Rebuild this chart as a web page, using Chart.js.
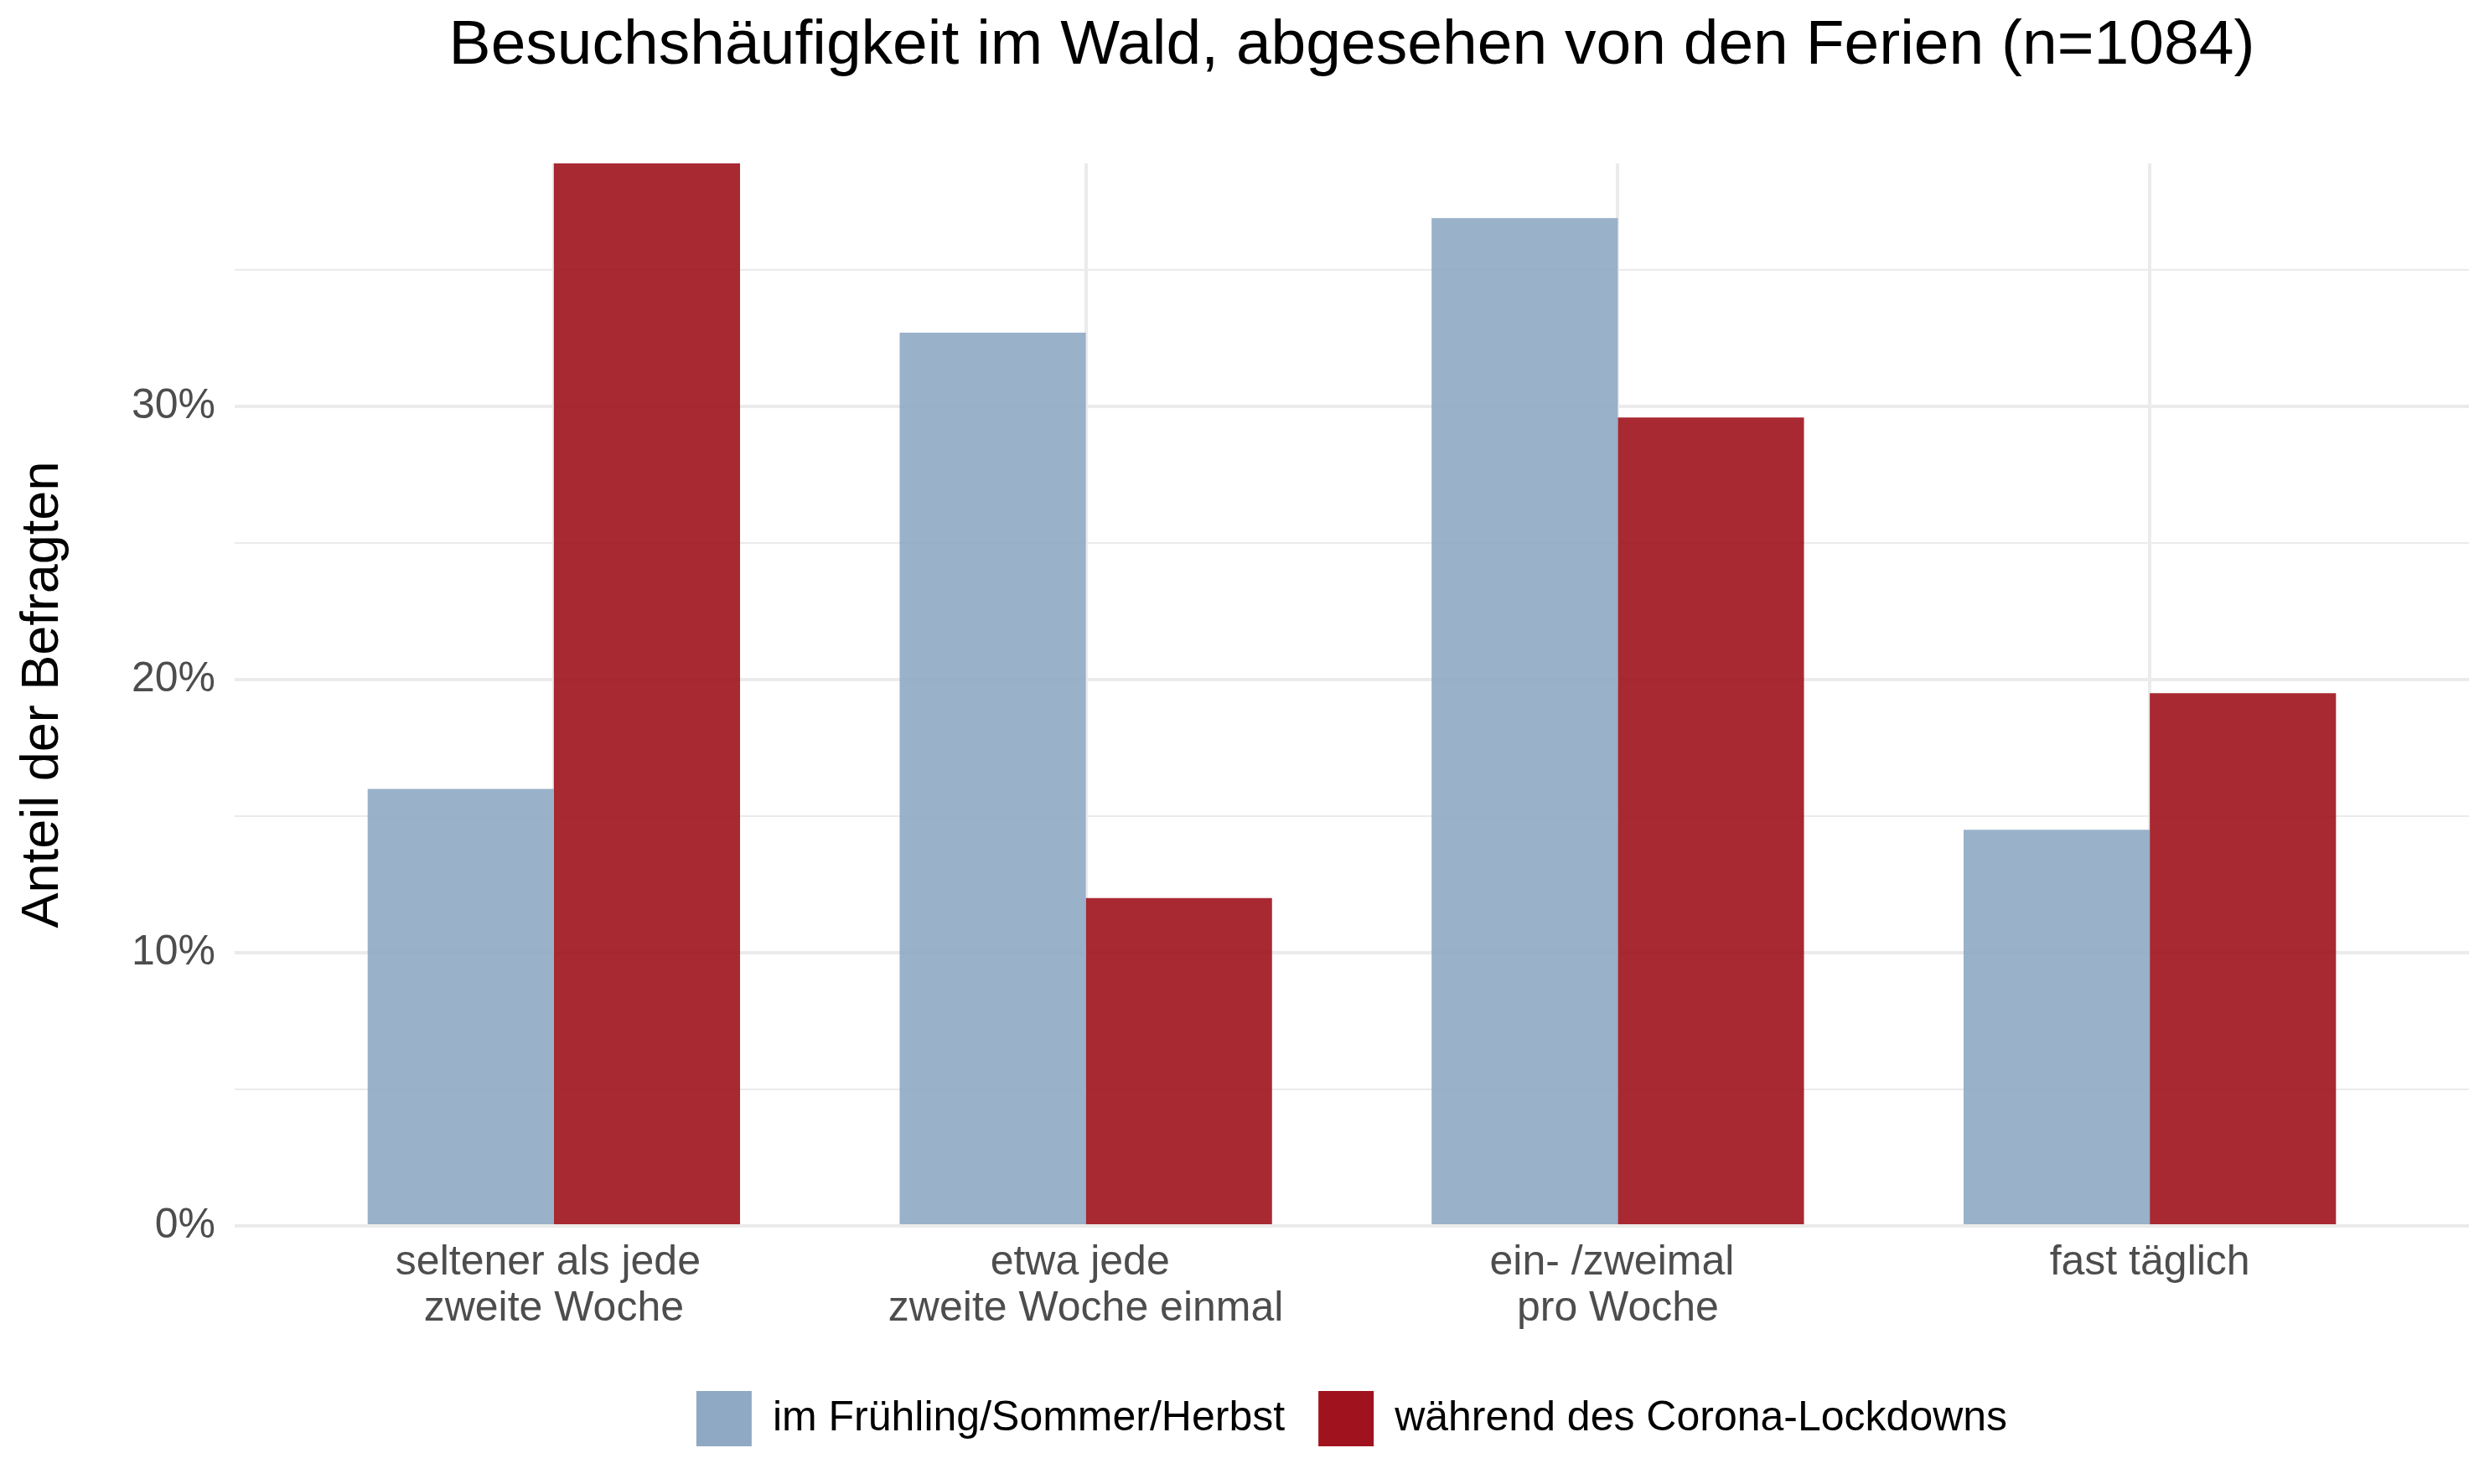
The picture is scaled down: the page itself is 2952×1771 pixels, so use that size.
<!DOCTYPE html>
<html>
<head>
<meta charset="utf-8">
<script src="https://cdn.jsdelivr.net/npm/chart.js@4/dist/chart.umd.min.js"></script>
<style>
  html, body { margin: 0; padding: 0; background: #ffffff; }
  #wrap { width: 2952px; height: 1771px; }
</style>
</head>
<body>
<div id="wrap"><canvas id="c" width="2952" height="1771"></canvas></div>
<script>
const titleText = "Besuchshäufigkeit im Wald, abgesehen von den Ferien (n=1084)";
const yTitle = "Anteil der Befragten";
const categories = [
  "seltener als jede \nzweite Woche",
  "etwa jede \nzweite Woche einmal",
  "ein- /zweimal \npro Woche",
  "fast täglich"
];
const seriesNames = ["im Frühling/Sommer/Herbst", "während des Corona-Lockdowns"];
const springSummerAutumn = [16.0, 32.7, 36.9, 14.5];
const coronaLockdown = [38.9, 12.0, 29.6, 19.5];
const yTickStep = 5;
const yLabelStep = 10;

const barColors = ["rgba(143,168,196,0.9)", "rgba(160,18,29,0.9)"];
const legendColors = ["rgb(143,168,196)", "rgb(160,18,29)"];
const FONT = "'Liberation Sans', Arial, Helvetica, sans-serif";

const toPoints = arr => arr.map((v, i) => ({ x: i + 1, y: v }));
const yMax = Math.max(...springSummerAutumn, ...coronaLockdown);

new Chart(document.getElementById('c'), {
  type: 'bar',
  data: {
    datasets: [
      { label: seriesNames[0], data: toPoints(springSummerAutumn), backgroundColor: barColors[0], borderWidth: 0,
        categoryPercentage: 0.7, barPercentage: 1.0 },
      { label: seriesNames[1], data: toPoints(coronaLockdown), backgroundColor: barColors[1], borderWidth: 0,
        categoryPercentage: 0.7, barPercentage: 1.0 }
    ]
  },
  options: {
    responsive: false,
    devicePixelRatio: 1,
    animation: false,
    layout: { padding: { left: 0, right: 6, top: 0, bottom: 35 } },
    scales: {
      x: {
        type: 'linear',
        min: 0.4, max: 4.6,
        offset: false,
        afterFit: s => { s.height = 157; },
        border: { display: false },
        grid: { color: '#ebebeb', lineWidth: 4, drawTicks: false, offset: false },
        ticks: {
          stepSize: 1,
          includeBounds: false,
          padding: 17,
          color: '#4d4d4d',
          font: { family: FONT, size: 50, lineHeight: 1.1 },
          maxRotation: 0, autoSkip: false,
          callback: v => (Number.isInteger(v) && categories[v - 1] !== undefined) ? categories[v - 1].split("\n") : ''
        }
      },
      y: {
        min: 0, max: yMax,
        afterFit: s => { s.width = 280; },
        border: { display: false },
        grid: {
          color: '#ebebeb',
          lineWidth: ctx => (ctx.tick && ctx.tick.value % yLabelStep === 0) ? 4 : 2,
          drawTicks: false
        },
        ticks: {
          stepSize: yTickStep,
          includeBounds: false,
          padding: 23,
          color: '#4d4d4d',
          font: { family: FONT, size: 50 },
          callback: v => (v % yLabelStep === 0) ? v + '%' : ''
        },
        title: {
          display: true, text: yTitle, color: '#000000',
          font: { family: FONT, size: 63, lineHeight: 1.2 },
          padding: { top: 14, bottom: 20 }
        }
      }
    },
    plugins: {
      title: {
        display: true, text: titleText, color: '#000000', fullSize: false,
        font: { family: FONT, size: 75, weight: 'normal', lineHeight: 1.2 },
        padding: { top: 10, bottom: 95 }
      },
      legend: {
        position: 'bottom', fullSize: false,
        labels: {
          boxWidth: 66, boxHeight: 66, padding: 40, color: '#000000',
          font: { family: FONT, size: 50 },
          generateLabels: chart => Chart.defaults.plugins.legend.labels.generateLabels(chart).map((l, i) =>
            Object.assign({}, l, { fillStyle: legendColors[i], strokeStyle: legendColors[i], lineWidth: 0 }))
        }
      },
      tooltip: { enabled: false }
    }
  }
});
</script>
</body>
</html>
